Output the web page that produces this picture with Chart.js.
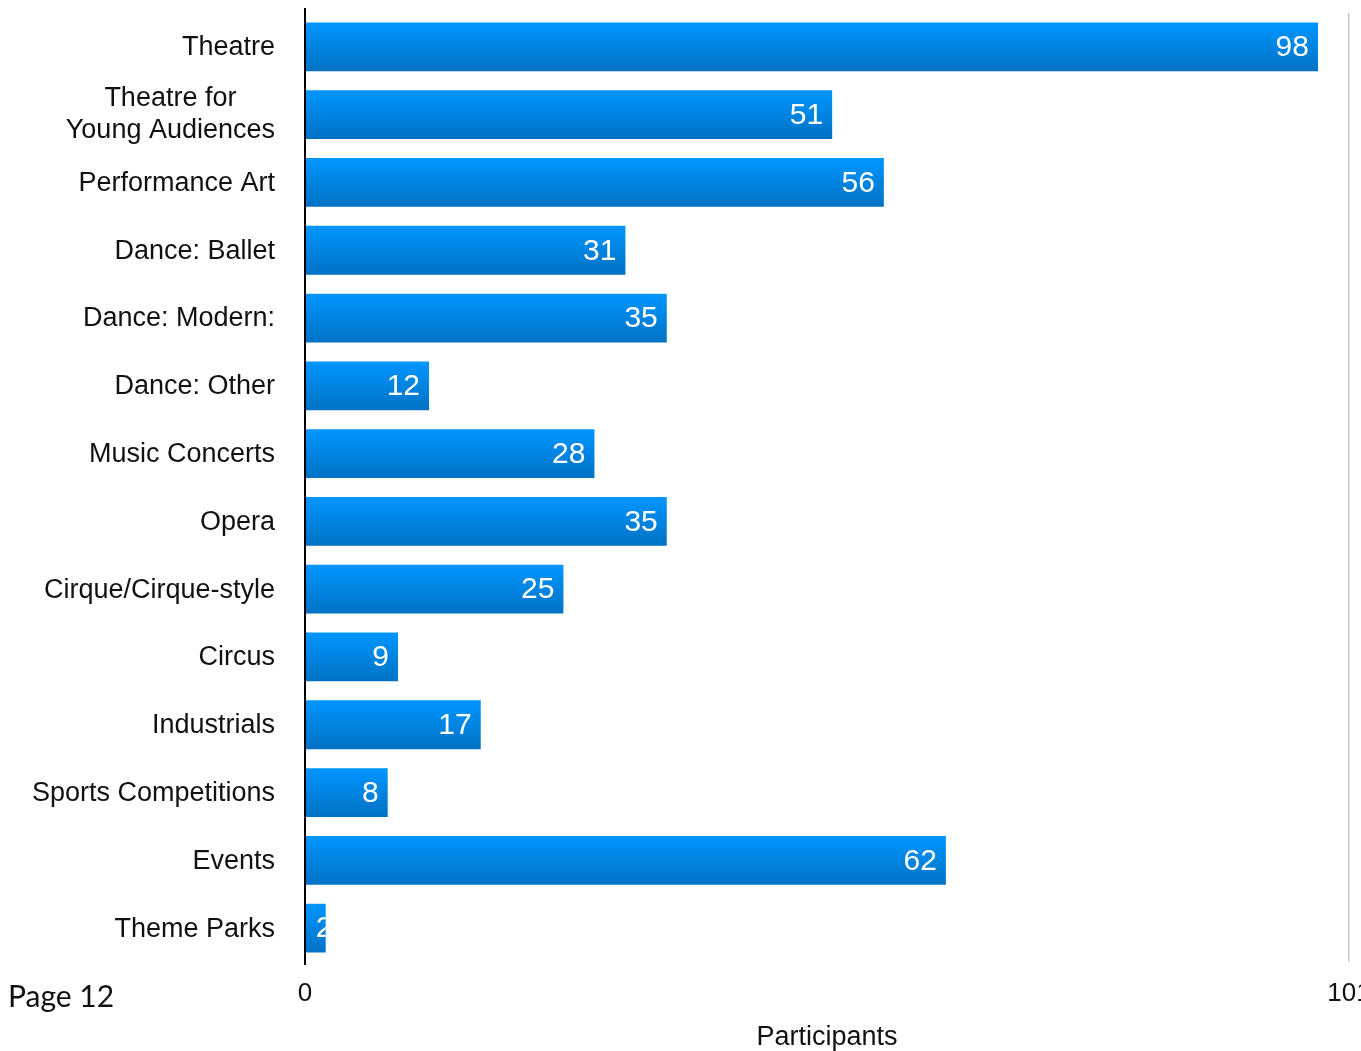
<!DOCTYPE html>
<html>
<head>
<meta charset="utf-8">
<script src="https://cdn.jsdelivr.net/npm/chart.js@4.4.1/dist/chart.umd.min.js"></script>
<style>
  html, body { margin: 0; padding: 0; overflow: hidden; background: #fff; width: 1361px; height: 1051px; }
  #wrap { position: relative; width: 1380px; height: 1051px; }
  #page { position: absolute; left: 8px; top: 975px; font-family: Lato, "Noto Sans", sans-serif; font-size: 30px; color: #111; line-height: 40px; }
</style>
</head>
<body>
<div id="wrap">
  <canvas id="c" width="1380" height="1051"></canvas>
  <div id="page">Page 12</div>
</div>
<script>
const categories = [
  "Theatre",
  ["Theatre for", "Young Audiences"],
  "Performance Art",
  "Dance: Ballet",
  "Dance: Modern:",
  "Dance: Other",
  "Music Concerts",
  "Opera",
  "Cirque/Cirque-style",
  "Circus",
  "Industrials",
  "Sports Competitions",
  "Events",
  "Theme Parks"
];
const participants = [98, 51, 56, 31, 35, 12, 28, 35, 25, 9, 17, 8, 62, 2];
const axisMin = 0;
const axisMax = 101;
const axisTitle = "Participants";

const FONT = '"Liberation Sans", Arial, sans-serif';
const BAR_FRACTION = 0.72;

function barGradient(ctx) {
  const chart = ctx.chart;
  const area = chart.chartArea;
  if (!area || ctx.dataIndex === undefined) return '#0088e8';
  const y = chart.scales.y.getPixelForValue(ctx.dataIndex);
  const band = (area.bottom - area.top) / categories.length;
  const h = band * BAR_FRACTION / 2;
  const g = chart.ctx.createLinearGradient(0, y - h, 0, y + h);
  g.addColorStop(0, '#0096ff');
  g.addColorStop(1, '#0072c4');
  return g;
}

const labelsPlugin = {
  id: 'customLabels',
  afterDatasetsDraw(chart) {
    const ctx = chart.ctx;
    const meta = chart.getDatasetMeta(0);
    const area = chart.chartArea;
    ctx.save();
    // vertical axis line at zero
    ctx.strokeStyle = '#000';
    ctx.lineWidth = 2;
    ctx.beginPath();
    ctx.moveTo(area.left, area.top - 5);
    ctx.lineTo(area.left, area.bottom + 3);
    ctx.stroke();
    // value labels inside bars
    ctx.font = '30px ' + FONT;
    ctx.fillStyle = '#ffffff';
    ctx.textBaseline = 'middle';
    ctx.textAlign = 'left';
    meta.data.forEach((bar, i) => {
      const txt = String(participants[i]);
      const w = ctx.measureText(txt).width;
      let start = bar.x - 9 - w;
      if (start < bar.base + 10) start = bar.base + 10;
      ctx.save();
      ctx.beginPath();
      ctx.rect(bar.base, bar.y - bar.height / 2, bar.x - bar.base, bar.height);
      ctx.clip();
      ctx.fillText(txt, start, bar.y + 1);
      ctx.restore();
    });
    // category labels
    ctx.font = '27px ' + FONT;
    ctx.fillStyle = '#111111';
    const rightX = area.left - 30;
    const lh = 32;
    categories.forEach((lab, i) => {
      const y = chart.scales.y.getPixelForValue(i);
      if (Array.isArray(lab)) {
        const maxW = Math.max(...lab.map(s => ctx.measureText(s).width));
        const cx = rightX - maxW / 2;
        ctx.textAlign = 'center';
        lab.forEach((s, k) => {
          ctx.fillText(s, cx, y + (k - (lab.length - 1) / 2) * lh);
        });
      } else {
        ctx.textAlign = 'right';
        ctx.fillText(lab, rightX, y + 1);
      }
    });
    ctx.restore();
  }
};

new Chart(document.getElementById('c'), {
  type: 'bar',
  data: {
    labels: categories,
    datasets: [{
      data: participants,
      backgroundColor: barGradient,
      borderWidth: 0,
      barPercentage: BAR_FRACTION,
      categoryPercentage: 1
    }]
  },
  options: {
    indexAxis: 'y',
    responsive: false,
    animation: false,
    layout: { padding: { top: 13, right: 31, left: 0, bottom: 0 } },
    plugins: { legend: { display: false }, tooltip: { enabled: false } },
    scales: {
      x: {
        min: axisMin,
        max: axisMax,
        ticks: {
          stepSize: axisMax - axisMin,
          padding: 16,
          color: '#111',
          font: { family: FONT, size: 26 },
          maxRotation: 0
        },
        grid: {
          drawTicks: false,
          lineWidth: 1.5,
          color: (c) => (c.tick && c.tick.value === axisMax) ? '#c8c8c8' : 'rgba(0,0,0,0)'
        },
        border: { display: false },
        title: {
          display: true,
          text: axisTitle,
          color: '#111',
          font: { family: FONT, size: 27, lineHeight: 1 },
          padding: { top: 0, bottom: 0 }
        },
        afterFit(scale) {
          scale.height = 89;
          scale.paddingLeft = 0;
          scale.paddingRight = 0;
        }
      },
      y: {
        ticks: { display: false },
        grid: { display: false, drawTicks: false },
        border: { display: false },
        afterFit(scale) {
          scale.width = 305;
        }
      }
    }
  },
  plugins: [labelsPlugin]
});
</script>
</body>
</html>
